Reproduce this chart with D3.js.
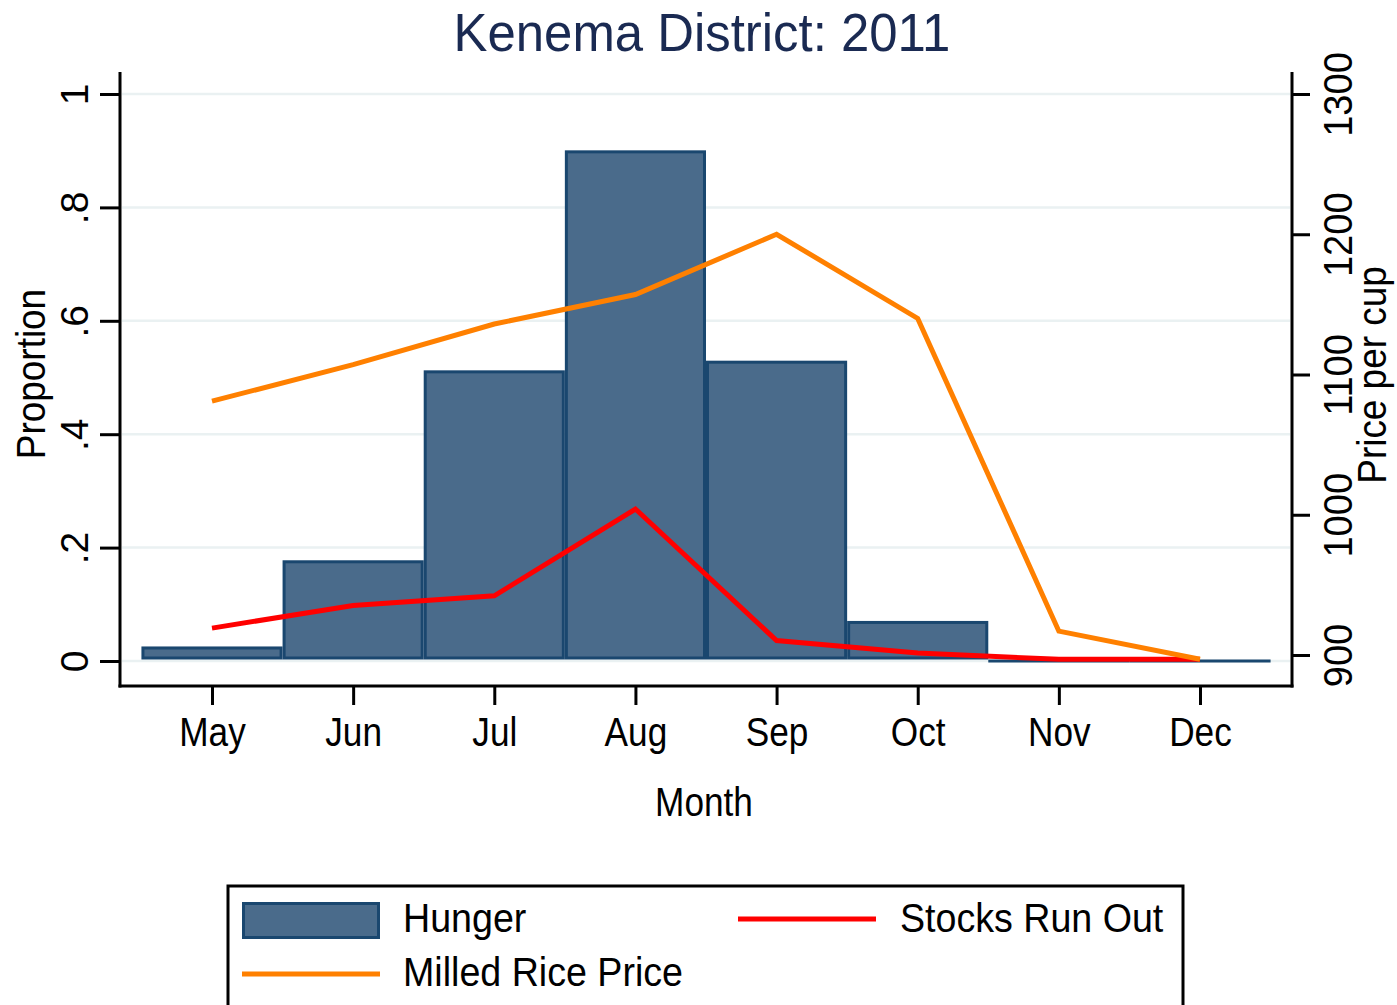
<!DOCTYPE html>
<html>
<head>
<meta charset="utf-8">
<script src="https://cdn.jsdelivr.net/npm/d3@7"></script>
<style>
  body { margin: 0; background: #fff; }
  text { font-family: "Liberation Sans", Arial, sans-serif; fill: #000; }
</style>
</head>
<body>
<script>
// Values
const months = ["May", "Jun", "Jul", "Aug", "Sep", "Oct", "Nov", "Dec"];
const monthNum = [5, 6, 7, 8, 9, 10, 11, 12];
const hunger = [0.023, 0.175, 0.51, 0.898, 0.527, 0.068, 0, 0];
const stocksRunOut = [0.058, 0.098, 0.115, 0.268, 0.036, 0.014, 0.003, 0.003];
const ricePrice = [1081, 1107, 1136, 1157, 1200, 1140, 917, 897];
const leftTicks = [0, 0.2, 0.4, 0.6, 0.8, 1];
const leftTickLabels = ["0", ".2", ".4", ".6", ".8", "1"];
const rightTicks = [900, 1000, 1100, 1200, 1300];

const w = 1397, h = 1005;
const plot = { left: 120, right: 1292, top: 72, bottom: 686 };

const svg = d3.select("body").append("svg")
  .attr("width", w)
  .attr("height", h);

// squeeze text horizontally a bit, the original font is narrower than Arial
function squeeze(sel, k) {
  sel.each(function () {
    const len = this.getComputedTextLength();
    d3.select(this).attr("textLength", len * k).attr("lengthAdjust", "spacingAndGlyphs");
  });
}

// Scales
const x = d3.scaleLinear().domain([5, 12]).range([212, 1200]);
const yL = d3.scaleLinear().domain([0, 1]).range([661, 94]);
const yR = d3.scaleLinear().domain([900, 1300]).range([655, 94]);
const bandW = x(6) - x(5);
const barShift = -1.5; // bars sit a hair above the zero gridline in the original

// Gridlines
svg.append("g")
  .selectAll("line")
  .data(leftTicks)
  .join("line")
  .attr("x1", plot.left + 2)
  .attr("x2", plot.right - 2)
  .attr("y1", d => yL(d))
  .attr("y2", d => yL(d))
  .attr("stroke", "#eaf1f2")
  .attr("stroke-width", 2.5);

// Bars (outline drawn inside the bar)
const barData = months.map((m, i) => ({ m: monthNum[i], v: hunger[i] }));
svg.append("g")
  .selectAll("rect")
  .data(barData)
  .join("rect")
  .attr("x", d => x(d.m) - bandW / 2 + 1.5)
  .attr("width", bandW - 3)
  .attr("y", d => yL(d.v) + 1.5 + barShift)
  .attr("height", d => Math.max(yL(0) - yL(d.v) - 3, 0.01))
  .attr("fill", "#4a6b8b")
  .attr("stroke", "#1a476f")
  .attr("stroke-width", 3);

// Lines
const redLine = d3.line().x((d, i) => x(monthNum[i])).y(d => yL(d));
svg.append("path")
  .datum(stocksRunOut)
  .attr("d", redLine)
  .attr("fill", "none")
  .attr("stroke", "#ff0000")
  .attr("stroke-width", 5);

const orangeLine = d3.line().x((d, i) => x(monthNum[i])).y(d => yR(d));
svg.append("path")
  .datum(ricePrice)
  .attr("d", orangeLine)
  .attr("fill", "none")
  .attr("stroke", "#ff8000")
  .attr("stroke-width", 5);

// Axes lines
svg.append("line")
  .attr("x1", plot.left).attr("x2", plot.left)
  .attr("y1", plot.top).attr("y2", plot.bottom + 1.5)
  .attr("stroke", "#000").attr("stroke-width", 3);
svg.append("line")
  .attr("x1", plot.right).attr("x2", plot.right)
  .attr("y1", plot.top).attr("y2", plot.bottom + 1.5)
  .attr("stroke", "#000").attr("stroke-width", 3);
svg.append("line")
  .attr("x1", plot.left - 1.5).attr("x2", plot.right + 1.5)
  .attr("y1", plot.bottom).attr("y2", plot.bottom)
  .attr("stroke", "#000").attr("stroke-width", 3);

// Left axis
const gL = svg.append("g")
  .attr("transform", `translate(${plot.left},0)`)
  .call(d3.axisLeft(yL).tickValues(leftTicks).tickSize(20).tickFormat((d, i) => leftTickLabels[i]));
gL.select(".domain").remove();
gL.selectAll(".tick line").attr("stroke", "#000").attr("stroke-width", 3);
gL.selectAll(".tick text")
  .attr("x", null).attr("dy", null)
  .attr("font-size", 39)
  .attr("text-anchor", "middle")
  .attr("transform", `translate(-32,0) rotate(-90)`);

// Right axis
const gR = svg.append("g")
  .attr("transform", `translate(${plot.right},0)`)
  .call(d3.axisRight(yR).tickValues(rightTicks).tickSize(18).tickFormat(d3.format("d")));
gR.select(".domain").remove();
gR.selectAll(".tick line").attr("stroke", "#000").attr("stroke-width", 3);
gR.selectAll(".tick text")
  .attr("x", null).attr("dy", null)
  .attr("font-size", 40)
  .attr("text-anchor", "middle")
  .attr("transform", `translate(60,0) rotate(-90)`)
  .call(squeeze, 0.95);

// Bottom axis
const gB = svg.append("g")
  .attr("transform", `translate(0,${plot.bottom})`)
  .call(d3.axisBottom(x).tickValues(monthNum).tickSize(19).tickFormat((d, i) => months[i]));
gB.select(".domain").remove();
gB.selectAll(".tick line").attr("stroke", "#000").attr("stroke-width", 3);
gB.selectAll(".tick text")
  .attr("y", 60).attr("dy", null)
  .attr("font-size", 40)
  .call(squeeze, 0.88);

// Titles
svg.append("text")
  .attr("x", 702).attr("y", 51)
  .attr("text-anchor", "middle")
  .attr("font-size", 53)
  .style("fill", "#1a2a52")
  .text("Kenema District: 2011")
  .call(squeeze, 0.96);

svg.append("text")
  .attr("x", 704).attr("y", 816)
  .attr("text-anchor", "middle")
  .attr("font-size", 40)
  .text("Month")
  .call(squeeze, 0.88);

svg.append("text")
  .attr("transform", "translate(45,374) rotate(-90)")
  .attr("text-anchor", "middle")
  .attr("font-size", 41)
  .text("Proportion")
  .call(squeeze, 0.9);

svg.append("text")
  .attr("transform", "translate(1386,375) rotate(-90)")
  .attr("text-anchor", "middle")
  .attr("font-size", 41)
  .text("Price per cup")
  .call(squeeze, 0.9);

// Legend
const legend = svg.append("g");
legend.append("rect")
  .attr("x", 228).attr("y", 886)
  .attr("width", 955).attr("height", 140)
  .attr("fill", "#fff")
  .attr("stroke", "#000")
  .attr("stroke-width", 3);

legend.append("rect")
  .attr("x", 243.5).attr("y", 903.5)
  .attr("width", 135).attr("height", 34)
  .attr("fill", "#4a6b8b")
  .attr("stroke", "#1a476f")
  .attr("stroke-width", 3);

legend.append("line")
  .attr("x1", 738).attr("x2", 876)
  .attr("y1", 919).attr("y2", 919)
  .attr("stroke", "#ff0000").attr("stroke-width", 5);

legend.append("line")
  .attr("x1", 242).attr("x2", 380)
  .attr("y1", 974).attr("y2", 974)
  .attr("stroke", "#ff8000").attr("stroke-width", 5);

const legendItems = [
  { label: "Hunger", x: 403, y: 932 },
  { label: "Stocks Run Out", x: 900, y: 932 },
  { label: "Milled Rice Price", x: 403, y: 986 }
];
legend.selectAll("text.lbl")
  .data(legendItems)
  .join("text")
  .attr("class", "lbl")
  .attr("x", d => d.x)
  .attr("y", d => d.y)
  .attr("font-size", 40)
  .text(d => d.label)
  .call(squeeze, 0.94);
</script>
</body>
</html>
